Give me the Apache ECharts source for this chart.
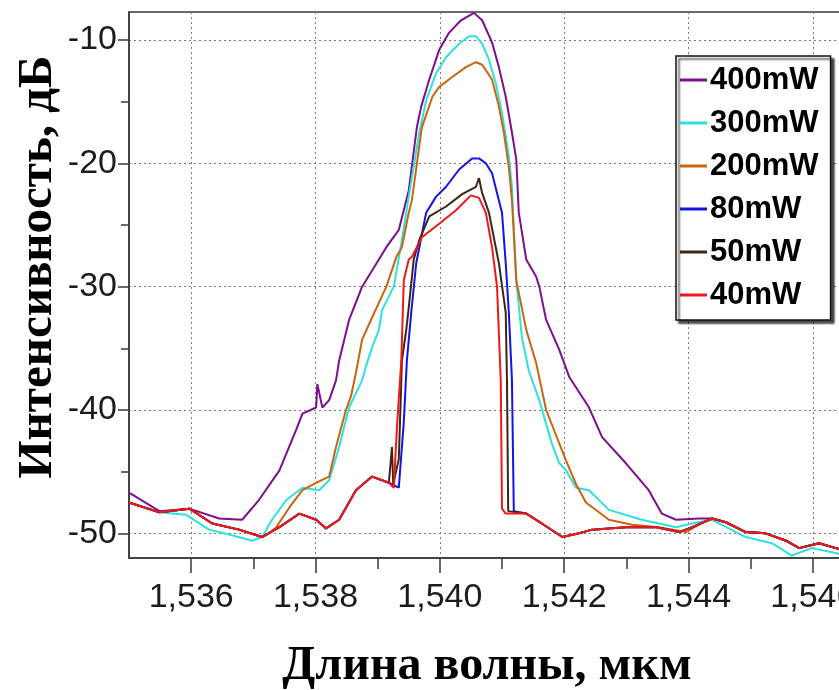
<!DOCTYPE html>
<html>
<head>
<meta charset="utf-8">
<script src="https://cdn.jsdelivr.net/npm/echarts@6/dist/echarts.min.js"></script>
<style>
html,body{margin:0;padding:0;background:#fff;}
#chart{width:839px;height:690px;}
</style>
</head>
<body>
<div id="chart"></div>
<script>
// ---- Data (wavelength in µm, intensity in dB) ----
const seriesNames = ['400mW', '300mW', '200mW', '80mW', '50mW', '40mW'];
const xRange = [1.535, 1.547];       // full data window
const xTickRange = [1.536, 1.546];   // labelled tick span
const xTickStep = 0.002;
const yRange = [-52, -7.73];
const yTickRange = [-50, -10];
const yTickStep = 10;

const p400 = [
  [1.53500,-46.7],[1.53549,-48.2],[1.53597,-48.0],[1.53645,-48.8],[1.53682,-48.9],[1.53709,-47.3],
  [1.53742,-44.9],[1.53769,-41.6],[1.53779,-40.3],[1.53801,-39.8],[1.53803,-37.9],[1.53811,-39.8],
  [1.53822,-39.2],[1.53833,-37.6],[1.53838,-36.0],[1.53854,-32.7],[1.53875,-30.0],[1.53914,-26.8],
  [1.53934,-25.4],[1.53950,-22.2],[1.53963,-17.1],[1.53970,-15.4],[1.53983,-13.2],[1.53999,-10.8],
  [1.54015,-9.4],[1.54034,-8.4],[1.54055,-7.8],[1.54068,-8.4],[1.54084,-10.2],[1.54095,-12.2],
  [1.54106,-14.6],[1.54116,-17.5],[1.54123,-19.7],[1.54127,-24.0],[1.54139,-27.8],[1.54155,-29.2],
  [1.54160,-30.0],[1.54171,-32.7],[1.54192,-35.1],[1.54208,-37.3],[1.54240,-39.8],[1.54261,-42.2],
  [1.54299,-44.3],[1.54336,-46.5],[1.54357,-48.4],[1.54380,-48.9],[1.54417,-48.8],[1.54438,-48.8],
  [1.54460,-49.1],[1.54492,-49.9],[1.54524,-50.0],[1.54557,-50.6],[1.54578,-51.2],[1.54610,-50.8],
  [1.54637,-51.2],[1.54650,-51.4]
];

const p300 = [
  [1.53500,-47.5],[1.53549,-48.3],[1.53592,-48.5],[1.53629,-49.7],[1.53661,-50.1],[1.53698,-50.6],
  [1.53714,-50.3],[1.53730,-48.9],[1.53753,-47.3],[1.53779,-46.3],[1.53806,-46.5],[1.53822,-45.7],
  [1.53838,-43.0],[1.53854,-39.8],[1.53875,-37.6],[1.53881,-36.5],[1.53891,-34.9],[1.53902,-33.5],
  [1.53907,-31.9],[1.53926,-30.0],[1.53939,-26.2],[1.53950,-22.7],[1.53967,-17.5],[1.53978,-14.9],
  [1.53994,-12.7],[1.54010,-11.4],[1.54031,-10.3],[1.54047,-9.7],[1.54058,-9.7],[1.54068,-10.3],
  [1.54079,-11.6],[1.54090,-13.5],[1.54100,-15.9],[1.54111,-19.4],[1.54116,-21.9],[1.54123,-29.5],
  [1.54132,-34.1],[1.54143,-36.8],[1.54160,-39.2],[1.54180,-42.7],[1.54192,-44.3],[1.54203,-44.9],
  [1.54219,-46.3],[1.54240,-46.5],[1.54272,-48.1],[1.54325,-48.9],[1.54380,-49.5],[1.54405,-49.2],
  [1.54438,-48.9],[1.54492,-50.3],[1.54534,-50.8],[1.54566,-51.8],[1.54598,-51.2],[1.54637,-51.6],
  [1.54650,-51.8]
];

const p200 = [
  [1.53500,-47.5],[1.53549,-48.3],[1.53597,-48.0],[1.53634,-49.2],[1.53677,-49.7],[1.53714,-50.3],
  [1.53725,-50.0],[1.53737,-49.5],[1.53758,-47.9],[1.53779,-46.5],[1.53801,-45.9],[1.53822,-45.4],
  [1.53833,-43.0],[1.53849,-40.0],[1.53857,-38.9],[1.53865,-37.0],[1.53875,-34.3],[1.53891,-32.5],
  [1.53914,-30.0],[1.53930,-27.6],[1.53939,-26.8],[1.53950,-24.0],[1.53955,-23.0],[1.53971,-17.1],
  [1.53988,-14.6],[1.53999,-13.8],[1.54020,-13.0],[1.54042,-12.2],[1.54058,-11.8],[1.54068,-12.0],
  [1.54084,-13.2],[1.54095,-15.4],[1.54103,-17.5],[1.54111,-20.3],[1.54116,-23.0],[1.54123,-29.5],
  [1.54139,-33.5],[1.54155,-36.2],[1.54171,-40.0],[1.54203,-44.1],[1.54219,-46.0],[1.54235,-47.5],
  [1.54272,-48.9],[1.54309,-49.3],[1.54352,-49.5],[1.54396,-49.9],[1.54417,-49.3],[1.54438,-48.8],
  [1.54460,-49.1],[1.54492,-49.9],[1.54524,-50.0],[1.54557,-50.6],[1.54578,-51.2],[1.54610,-50.8],
  [1.54637,-51.2],[1.54650,-51.4]
];

// shared background shape of the low-power spectra
const baseLeft = [
  [1.53500,-47.5],[1.53549,-48.3],[1.53597,-48.0],[1.53634,-49.2],[1.53677,-49.7],[1.53714,-50.3],
  [1.53742,-49.5],[1.53774,-48.4],[1.53801,-48.9],[1.53817,-49.6],[1.53838,-48.9],[1.53865,-46.5],
  [1.53891,-45.4],[1.53918,-45.9]
];
const baseRight = [
  [1.54139,-48.4],[1.54164,-49.2],[1.54197,-50.3],[1.54224,-50.0],[1.54245,-49.7],[1.54299,-49.5],
  [1.54348,-49.5],[1.54385,-49.9],[1.54406,-49.5],[1.54438,-48.8],[1.54460,-49.1],[1.54492,-49.9],
  [1.54524,-50.0],[1.54557,-50.6],[1.54578,-51.2],[1.54610,-50.8],[1.54637,-51.2],[1.54650,-51.4]
];
const peak80 = [
  [1.53934,-46.3],[1.53942,-41.0],[1.53947,-36.0],[1.53954,-32.1],[1.53962,-28.1],[1.53978,-24.0],
  [1.53994,-22.7],[1.54010,-21.9],[1.54031,-20.5],[1.54052,-19.6],[1.54063,-19.6],[1.54074,-20.0],
  [1.54084,-20.8],[1.54092,-22.4],[1.54100,-24.0],[1.54106,-28.1],[1.54111,-32.1],[1.54116,-37.6],
  [1.54119,-48.2]
];
const peak50 = [
  [1.53920,-45.8],[1.53923,-43.0],[1.53925,-46.0],[1.53934,-44.0],[1.53939,-36.0],[1.53946,-33.5],
  [1.53950,-31.7],[1.53958,-27.8],[1.53967,-26.2],[1.53983,-24.3],[1.54010,-23.5],[1.54036,-22.5],
  [1.54058,-21.9],[1.54063,-21.2],[1.54068,-22.4],[1.54079,-24.0],[1.54095,-28.1],[1.54106,-32.1],
  [1.54108,-37.6],[1.54110,-48.2]
];
const peak40 = [
  [1.53926,-46.3],[1.53931,-41.4],[1.53938,-36.0],[1.53942,-29.5],[1.53950,-27.8],[1.53955,-27.6],
  [1.53971,-26.0],[1.53999,-24.9],[1.54026,-23.8],[1.54050,-22.6],[1.54063,-22.8],[1.54074,-24.0],
  [1.54084,-26.8],[1.54092,-30.0],[1.54098,-37.6],[1.54100,-48.0],[1.54106,-48.4]
];

const p80 = baseLeft.concat(peak80, baseRight);
const p50 = baseLeft.concat(peak50, baseRight);
const p40 = baseLeft.concat(peak40, baseRight);
const allData = [p400, p300, p200, p80, p50, p40];

// ---- Layout helpers (plot box in pixels) ----
const W = 839, H = 690;
const box = {left: 129, top: 12, right: -36, bottom: 132};
const boxW = W - box.left - box.right, boxH = H - box.top - box.bottom;
const pxPerX = boxW / (xRange[1] - xRange[0]);
const pxPerY = boxH / (yRange[1] - yRange[0]);
// sub-grids whose edges sit exactly on the first/last labelled ticks
const xGrid = {left: box.left + (xTickRange[0] - xRange[0]) * pxPerX, right: box.right + (xRange[1] - xTickRange[1]) * pxPerX,
  top: box.top, bottom: box.bottom, outerBoundsMode: 'none'};
const yGrid = {left: box.left, right: box.right, top: box.top + (yRange[1] - yTickRange[1]) * pxPerY,
  bottom: box.bottom + (yTickRange[0] - yRange[0]) * pxPerY, outerBoundsMode: 'none'};

// ---- Chart ----
const colors = ['#7d0f8f', '#2fe0e0', '#c8650f', '#1414e6', '#3d2616', '#f01818'];
const chart = echarts.init(document.getElementById('chart'), null, {renderer: 'canvas'});
const tickFont = {fontFamily: '"Liberation Sans", Arial, sans-serif', fontSize: 34, color: '#1c1c1c'};
const titleFont = {fontFamily: '"Liberation Serif", "Times New Roman", serif', fontWeight: 'bold', color: '#000'};
const axisColor = '#3a3a3a';
const gridLine = {show: true, lineStyle: {color: '#7a7a7a', type: [2, 3], width: 1}};
const none = {show: false};

const option = {
  animation: false,
  backgroundColor: '#fff',
  grid: [
    Object.assign({show: true, borderColor: axisColor, borderWidth: 1.5, outerBoundsMode: 'none'}, box),
    yGrid,
    xGrid
  ],
  legend: {
    data: seriesNames,
    orient: 'vertical',
    left: 676, top: 56,
    backgroundColor: '#fff',
    borderColor: '#111', borderWidth: 1.5,
    shadowColor: 'rgba(0,0,0,0.7)', shadowBlur: 2, shadowOffsetX: 3, shadowOffsetY: 3,
    padding: [6, 12, 7, 4],
    itemGap: 7,
    itemWidth: 27, itemHeight: 3,
    icon: 'rect',
    textStyle: {fontFamily: '"Liberation Sans", Arial, sans-serif', fontWeight: 'bold', fontSize: 31, color: '#000', lineHeight: 36, padding: [0, 0, 0, -2]}
  },
  xAxis: [
    { // data axis
      type: 'value', gridIndex: 0, min: xRange[0], max: xRange[1], position: 'bottom',
      name: 'Длина волны, мкм', nameLocation: 'middle', nameGap: 85,
      nameTextStyle: Object.assign({fontSize: 48, padding: [0, 30, 0, 0]}, titleFont),
      axisLine: {show: true, lineStyle: {color: axisColor, width: 1.5}},
      axisTick: none, axisLabel: none, splitLine: none
    },
    { // labelled ticks + grid lines
      type: 'value', gridIndex: 2, min: xTickRange[0], max: xTickRange[1], interval: xTickStep, position: 'bottom',
      axisLine: none,
      axisTick: {show: true, length: 15, lineStyle: {color: axisColor, width: 1.5}},
      axisLabel: Object.assign({margin: 23, formatter: v => v.toFixed(3).replace('.', ',')}, tickFont),
      splitLine: gridLine
    },
    { // minor ticks
      type: 'value', gridIndex: 2, min: xTickRange[0], max: xTickRange[1], interval: xTickStep / 2, position: 'bottom',
      axisLine: none, axisLabel: none, splitLine: none,
      axisTick: {show: true, length: 11, lineStyle: {color: axisColor, width: 1.5}}
    },
    {type: 'value', gridIndex: 1, min: 0, max: 1, show: false}
  ],
  yAxis: [
    { // data axis
      type: 'value', gridIndex: 0, min: yRange[0], max: yRange[1], position: 'left',
      name: 'Интенсивность, дБ', nameLocation: 'middle', nameRotate: 90, nameGap: 66,
      nameTextStyle: Object.assign({fontSize: 49, padding: [0, 0, 0, 36]}, titleFont),
      axisLine: {show: true, lineStyle: {color: axisColor, width: 1.5}},
      axisTick: none, axisLabel: none, splitLine: none
    },
    { // labelled ticks + grid lines
      type: 'value', gridIndex: 1, min: yTickRange[0], max: yTickRange[1], interval: yTickStep, position: 'left',
      axisLine: none,
      axisTick: {show: true, length: 11, lineStyle: {color: axisColor, width: 1.5}},
      axisLabel: Object.assign({margin: 12}, tickFont),
      splitLine: gridLine
    },
    { // minor ticks
      type: 'value', gridIndex: 1, min: yTickRange[0], max: yTickRange[1], interval: yTickStep / 2, position: 'left',
      axisLine: none, axisLabel: none, splitLine: none,
      axisTick: {show: true, length: 8, lineStyle: {color: axisColor, width: 1.5}}
    },
    {type: 'value', gridIndex: 2, min: 0, max: 1, show: false}
  ],
  series: seriesNames.map((n, i) => ({
    name: n, type: 'line', data: allData[i], xAxisIndex: 0, yAxisIndex: 0,
    showSymbol: false, symbol: 'none', smooth: false,
    lineStyle: {color: colors[i], width: 2}, itemStyle: {color: colors[i]},
    z: 2 + i
  }))
};
chart.setOption(option);
</script>
</body>
</html>
